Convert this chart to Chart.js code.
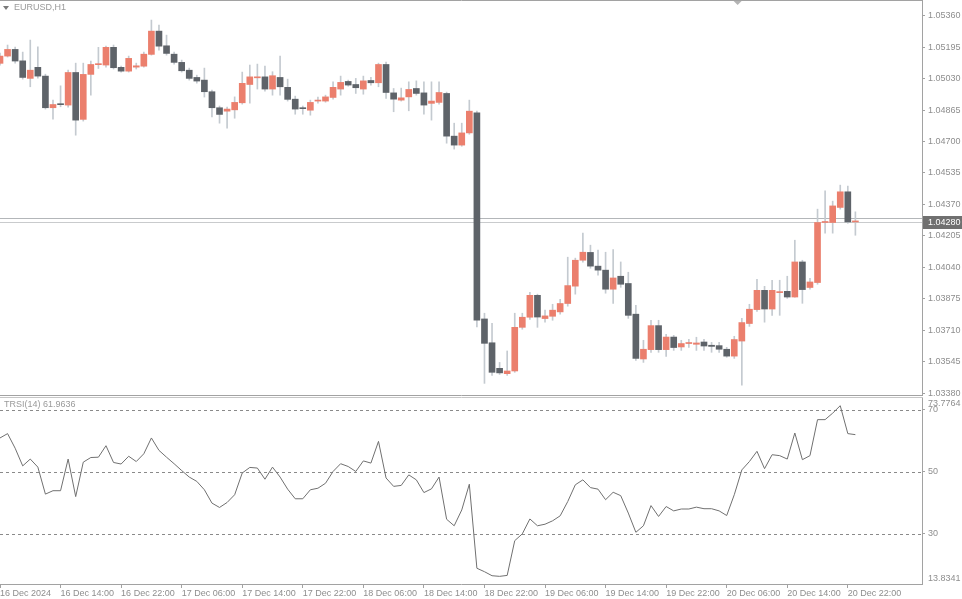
<!DOCTYPE html>
<html>
<head>
<meta charset="utf-8">
<script src="https://cdn.jsdelivr.net/npm/chart.js@4.4.1/dist/chart.umd.min.js"></script>
<style>
html, body { margin: 0; padding: 0; background: #fff; }
#wrap { position: relative; width: 962px; height: 599px; overflow: hidden; }
#priceChart { position: absolute; left: 0; top: 0; }
#rsiChart { position: absolute; left: 0; top: 396px; }
</style>
</head>
<body>
<div id="wrap">
  <canvas id="priceChart" width="962" height="396"></canvas>
  <canvas id="rsiChart" width="962" height="203"></canvas>
</div>
<script>
// --- data: EURUSD H1, 16 Dec 06:00 .. 20 Dec 23:00 ---
const openP = [
  1.05110,1.05148,1.05183,1.05123,1.05031,1.05089,1.05043,1.04877,1.04894,1.04891,
  1.05062,1.04816,1.05052,1.05103,1.05101,1.05194,1.05089,1.05069,1.05090,1.05095,
  1.05157,1.05279,1.05202,1.05158,1.05115,1.05074,1.05036,1.05022,1.04961,1.04877,
  1.04859,1.04866,1.04903,1.04999,1.05034,1.05039,1.04975,1.05036,1.04984,1.04922,
  1.04873,1.04864,1.04912,1.04912,1.04931,1.04975,1.05015,1.04999,1.04975,1.05020,
  1.05008,1.05104,1.04955,1.04917,1.04934,1.04978,1.04955,1.04900,1.04905,1.04952,
  1.04728,1.04681,1.04745,1.04850,1.03769,1.03644,1.03510,1.03482,1.03496,1.03725,
  1.03778,1.03893,1.03771,1.03783,1.03806,1.03850,1.03941,1.04077,1.04118,1.04046,
  1.04025,1.03925,1.03993,1.03955,1.03794,1.03559,1.03608,1.03734,1.03608,1.03674,
  1.03622,1.03640,1.03636,1.03648,1.03631,1.03629,1.03610,1.03574,1.03653,1.03745,
  1.03818,1.03919,1.03821,1.03907,1.03914,1.03884,1.04068,1.03934,1.03960,1.04275,
  1.04275,1.04354,1.04436,1.04278
];
const highP = [
  1.05164,1.05206,1.05195,1.05169,1.05232,1.05197,1.05053,1.04917,1.04992,1.05075,
  1.05111,1.05111,1.05122,1.05194,1.05200,1.05206,1.05095,1.05148,1.05111,1.05169,
  1.05337,1.05311,1.05258,1.05169,1.05127,1.05085,1.05048,1.05085,1.04970,1.04886,
  1.04880,1.04934,1.05064,1.05101,1.05106,1.05095,1.05066,1.05148,1.05027,1.04938,
  1.04886,1.04917,1.04933,1.04943,1.05013,1.05043,1.05022,1.05031,1.05043,1.05036,
  1.05111,1.05116,1.04978,1.04980,1.05013,1.05018,1.05013,1.05013,1.05013,1.04959,
  1.04796,1.04796,1.04917,1.04859,1.03799,1.03746,1.03541,1.03601,1.03799,1.03799,
  1.03909,1.03899,1.03815,1.03846,1.03872,1.04093,1.04088,1.04220,1.04156,1.04130,
  1.04119,1.04133,1.04068,1.04014,1.03841,1.03657,1.03762,1.03762,1.03688,1.03683,
  1.03657,1.03662,1.03673,1.03662,1.03646,1.03646,1.03620,1.03678,1.03772,1.03846,
  1.03977,1.03940,1.03972,1.03972,1.03993,1.04182,1.04077,1.03982,1.04345,1.04441,
  1.04387,1.04471,1.04466,1.04331
];
const lowP = [
  1.05101,1.05143,1.05111,1.05027,1.04987,1.05032,1.04870,1.04817,1.04882,1.04880,
  1.04733,1.04807,1.04943,1.05083,1.05090,1.05080,1.05064,1.05064,1.05080,1.05090,
  1.05153,1.05179,1.05153,1.05106,1.05064,1.05022,1.05006,1.04933,1.04829,1.04796,
  1.04770,1.04822,1.04896,1.04901,1.04975,1.04964,1.04943,1.04943,1.04912,1.04843,
  1.04843,1.04838,1.04901,1.04906,1.04922,1.04943,1.04990,1.04952,1.04948,1.04996,
  1.04987,1.04926,1.04856,1.04912,1.04861,1.04943,1.04843,1.04812,1.04896,1.04691,
  1.04660,1.04675,1.04738,1.03727,1.03431,1.03473,1.03478,1.03473,1.03489,1.03715,
  1.03767,1.03725,1.03752,1.03762,1.03794,1.03836,1.03899,1.04067,1.04035,1.03998,
  1.03904,1.03850,1.03935,1.03772,1.03552,1.03541,1.03594,1.03594,1.03573,1.03604,
  1.03604,1.03620,1.03604,1.03604,1.03594,1.03594,1.03568,1.03562,1.03421,1.03730,
  1.03809,1.03752,1.03788,1.03788,1.03877,1.03883,1.03851,1.03925,1.03951,1.04219,
  1.04219,1.04345,1.04271,1.04208
];
const closeP = [
  1.05148,1.05183,1.05122,1.05036,1.05074,1.05043,1.04877,1.04894,1.04893,1.05062,
  1.04812,1.05052,1.05104,1.05104,1.05194,1.05087,1.05069,1.05136,1.05097,1.05158,
  1.05279,1.05200,1.05162,1.05115,1.05071,1.05031,1.05017,1.04961,1.04877,1.04842,
  1.04870,1.04905,1.05005,1.05039,1.05035,1.04975,1.05045,1.04987,1.04921,1.04870,
  1.04872,1.04905,1.04913,1.04934,1.04984,1.05010,1.04996,1.04982,1.05018,1.05008,
  1.05104,1.04957,1.04922,1.04929,1.04973,1.04952,1.04891,1.04912,1.04957,1.04728,
  1.04681,1.04745,1.04859,1.03762,1.03641,1.03489,1.03486,1.03496,1.03725,1.03778,
  1.03893,1.03779,1.03785,1.03815,1.03850,1.03944,1.04077,1.04119,1.04046,1.04025,
  1.03925,1.03984,1.03951,1.03788,1.03562,1.03610,1.03734,1.03608,1.03674,1.03619,
  1.03640,1.03640,1.03643,1.03627,1.03625,1.03610,1.03574,1.03661,1.03750,1.03820,
  1.03919,1.03821,1.03919,1.03908,1.03884,1.04068,1.03923,1.03963,1.04275,1.04276,
  1.04362,1.04436,1.04278,1.04280
];
const rsi = [
  60.9,62.3,57.6,51.9,54.1,51.5,42.8,43.9,43.9,54.1,
  42.0,53.1,54.6,54.7,58.4,53.0,52.5,55.0,53.3,55.8,
  60.9,56.9,54.7,52.6,50.4,48.3,46.9,44.2,39.9,38.5,
  40.1,42.6,49.6,51.4,51.2,47.6,51.5,48.3,44.4,41.3,
  41.3,44.2,44.7,46.3,50.1,52.6,51.7,50.1,53.5,52.8,
  59.8,48.0,45.3,45.6,49.0,47.4,43.3,44.5,48.3,34.7,
  32.6,37.7,46.0,18.9,17.8,16.5,16.3,16.6,27.8,30.0,
  34.8,32.6,33.1,34.2,35.8,40.4,45.8,47.4,44.9,44.4,
  41.0,43.4,42.3,36.7,30.5,32.6,39.1,35.6,38.8,37.4,
  38.0,38.0,38.6,38.1,38.1,37.4,35.9,42.6,50.6,53.3,
  56.6,51.0,55.5,55.2,54.1,62.5,53.9,55.2,66.8,66.8,
  68.9,71.3,62.3,61.9636
];

const priceTicks = [1.05360,1.05195,1.05030,1.04865,1.04700,1.04535,1.04370,1.04205,1.04040,1.03875,1.03710,1.03545,1.03380];
const rsiLevels = [70, 50, 30];
const timeTickIdx = [0, 8, 16, 24, 32, 40, 48, 56, 64, 72, 80, 88, 96, 104, 112];
const timeTickLabels = ['16 Dec 2024','16 Dec 14:00','16 Dec 22:00','17 Dec 06:00','17 Dec 14:00','17 Dec 22:00',
  '18 Dec 06:00','18 Dec 14:00','18 Dec 22:00','19 Dec 06:00','19 Dec 14:00','19 Dec 22:00',
  '20 Dec 06:00','20 Dec 14:00','20 Dec 22:00'];

const PRICE_MIN = 1.03370, PRICE_MAX = 1.05437;
const RSI_MIN = 13.8341, RSI_MAX = 73.7764;
const SPREAD = 0.00018;
const X_MAX = 121.8;

const UP = '#eb7f6d', DOWN = '#5e6369', WICK = '#c4cad0';
const AXIS = '#a2a2a2', TXT = '#8e8e8e';
const FONT = { family: '"Liberation Sans", Arial, sans-serif', size: 9 };
const CSS_FONT = '9px "Liberation Sans", Arial, sans-serif';

const candleColors = closeP.map((c, i) => c >= openP[i] ? UP : DOWN);
const bodyData = openP.map((o, i) => ({ x: i, y: [o, closeP[i]] }));
const wickData = lowP.map((l, i) => ({ x: i, y: [l, highP[i]] }));

// fixed right scale, no extra padding for the edge labels
const fitRightAxis = s => { s.width = 40; s.paddingTop = 0; s.paddingBottom = 0; };

// --- price pane ---
const pricePanePlugin = {
  id: 'pricePane',
  beforeDatasetsDraw(chart) {
    const { ctx, chartArea: a, scales: { y } } = chart;
    const bid = closeP[closeP.length - 1];
    ctx.save();
    ctx.lineWidth = 1;
    [[bid + SPREAD, '#b3b6b9'], [bid, '#c9cbcd']].forEach(([v, c]) => {
      const py = Math.round(y.getPixelForValue(v)) + 0.5;
      ctx.strokeStyle = c;
      ctx.beginPath(); ctx.moveTo(a.left, py); ctx.lineTo(a.right, py); ctx.stroke();
    });
    ctx.restore();
  },
  afterDraw(chart) {
    const { ctx, chartArea: a, scales: { y } } = chart;
    const bid = closeP[closeP.length - 1];
    ctx.save();
    ctx.strokeStyle = AXIS; ctx.lineWidth = 1;
    ctx.beginPath(); ctx.moveTo(0, 0.5); ctx.lineTo(a.right + 1, 0.5); ctx.stroke();
    ctx.beginPath(); ctx.moveTo(0, a.bottom + 0.5); ctx.lineTo(a.right + 1, a.bottom + 0.5); ctx.stroke();

    // chart shift marker
    const sx = a.left + a.width * 0.8;
    ctx.fillStyle = '#b4b4b4';
    ctx.beginPath(); ctx.moveTo(sx - 4, 1); ctx.lineTo(sx + 4, 1); ctx.lineTo(sx, 5); ctx.closePath(); ctx.fill();

    // symbol title
    ctx.fillStyle = '#7a7a7a';
    ctx.beginPath(); ctx.moveTo(3, 6); ctx.lineTo(9, 6); ctx.lineTo(6, 10); ctx.closePath(); ctx.fill();
    ctx.font = CSS_FONT; ctx.fillStyle = '#9a9a9a';
    ctx.textBaseline = 'middle'; ctx.textAlign = 'left';
    ctx.fillText('EURUSD,H1', 14, 8);

    // current price tag
    const py = Math.round(y.getPixelForValue(bid));
    ctx.fillStyle = '#707070';
    ctx.fillRect(a.right + 1, py - 6, chart.width - a.right, 13);
    ctx.fillStyle = '#ffffff';
    ctx.fillText(bid.toFixed(5), a.right + 6, py + 0.5);
    ctx.restore();
  }
};

new Chart(document.getElementById('priceChart'), {
  type: 'bar',
  data: {
    datasets: [
      { data: bodyData, backgroundColor: candleColors, barThickness: 6, minBarLength: 1, grouped: false },
      { data: wickData, backgroundColor: WICK, barThickness: 1, grouped: false }
    ]
  },
  options: {
    responsive: false, animation: false,
    layout: { autoPadding: false, padding: { top: 1, bottom: 1, left: 0, right: 0 } },
    plugins: { legend: { display: false }, tooltip: { enabled: false } },
    scales: {
      x: { type: 'linear', min: 0, max: X_MAX, offset: false, display: false },
      y: {
        position: 'right', min: PRICE_MIN, max: PRICE_MAX,
        afterBuildTicks: s => { s.ticks = priceTicks.map(v => ({ value: v })); },
        afterFit: fitRightAxis,
        grid: { drawOnChartArea: false, drawTicks: true, tickLength: 3, color: AXIS },
        border: { display: true, color: AXIS },
        ticks: { color: TXT, font: FONT, padding: 3, callback: v => Number(v).toFixed(5) }
      }
    }
  },
  plugins: [pricePanePlugin]
});

// --- RSI pane ---
const rsiPanePlugin = {
  id: 'rsiPane',
  beforeDatasetsDraw(chart) {
    const { ctx, chartArea: a, scales: { y } } = chart;
    ctx.save();
    ctx.strokeStyle = '#8a8a8a'; ctx.lineWidth = 1; ctx.setLineDash([3, 3]);
    rsiLevels.forEach(l => {
      const py = Math.round(y.getPixelForValue(l)) + 0.5;
      ctx.beginPath(); ctx.moveTo(a.left, py); ctx.lineTo(a.right, py); ctx.stroke();
    });
    ctx.restore();
  },
  afterDraw(chart) {
    const { ctx, chartArea: a } = chart;
    ctx.save();
    ctx.strokeStyle = '#c6c6c6'; ctx.lineWidth = 1;
    ctx.beginPath(); ctx.moveTo(0, a.top - 0.5); ctx.lineTo(a.right + 1, a.top - 0.5); ctx.stroke();
    ctx.font = CSS_FONT; ctx.fillStyle = '#9a9a9a'; ctx.textAlign = 'left';
    ctx.textBaseline = 'middle';
    ctx.fillText('TRSI(14) ' + rsi[rsi.length - 1].toFixed(4), 4, a.top + 7);
    ctx.fillStyle = TXT;
    ctx.textBaseline = 'top';
    ctx.fillText(RSI_MAX.toFixed(4), a.right + 6, a.top + 1);
    ctx.textBaseline = 'bottom';
    ctx.fillText(RSI_MIN.toFixed(4), a.right + 6, a.bottom - 1);
    ctx.restore();
  }
};

new Chart(document.getElementById('rsiChart'), {
  type: 'line',
  data: {
    datasets: [{
      data: rsi.map((v, i) => ({ x: i, y: v })),
      borderColor: '#707070', borderWidth: 1, pointRadius: 0, tension: 0, fill: false
    }]
  },
  options: {
    responsive: false, animation: false,
    layout: { autoPadding: false, padding: { top: 2, bottom: 0, left: 0, right: 0 } },
    plugins: { legend: { display: false }, tooltip: { enabled: false } },
    scales: {
      x: {
        type: 'linear', min: 0, max: X_MAX, offset: false,
        afterBuildTicks: s => { s.ticks = timeTickIdx.map(v => ({ value: v })); },
        afterFit: s => { s.height = 15; s.paddingLeft = 0; s.paddingRight = 0; },
        grid: { drawOnChartArea: false, drawTicks: true, tickLength: 4, color: AXIS },
        border: { display: true, color: AXIS },
        ticks: {
          color: TXT, font: FONT, padding: 0, align: 'start', autoSkip: false, maxRotation: 0, minRotation: 0,
          callback: v => timeTickLabels[timeTickIdx.indexOf(v)]
        }
      },
      y: {
        position: 'right', min: RSI_MIN, max: RSI_MAX,
        afterBuildTicks: s => { s.ticks = rsiLevels.map(v => ({ value: v })); },
        afterFit: fitRightAxis,
        grid: { drawOnChartArea: false, drawTicks: true, tickLength: 3, color: AXIS },
        border: { display: true, color: AXIS },
        ticks: { color: TXT, font: FONT, padding: 3 }
      }
    }
  },
  plugins: [rsiPanePlugin]
});
</script>
</body>
</html>
